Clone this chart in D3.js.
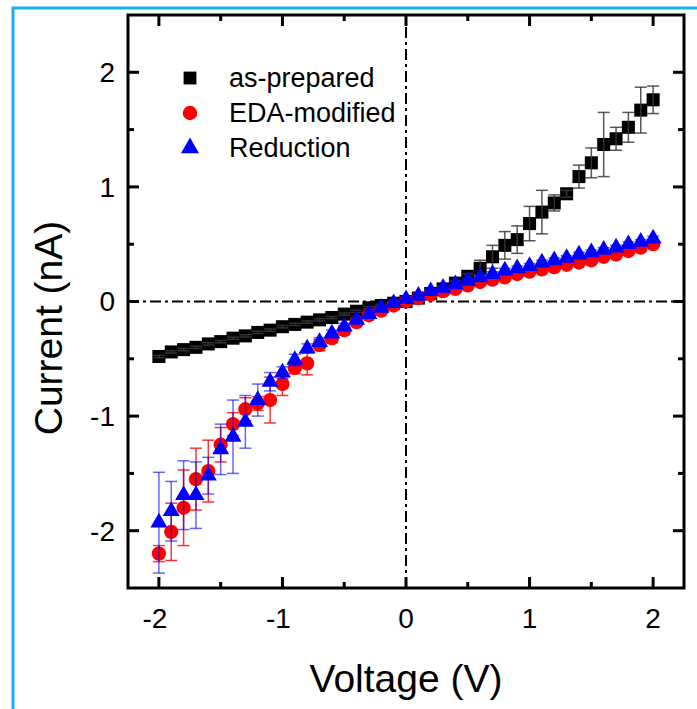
<!DOCTYPE html>
<html>
<head>
<meta charset="utf-8">
<script src="https://cdn.jsdelivr.net/npm/d3@7"></script>
<style>
  body { margin: 0; background: #fff; }
  text { font-family: "Liberation Sans", Arial, sans-serif; }
</style>
</head>
<body>
<script>
// voltage steps (V)
const voltage = [-2.0, -1.9, -1.8, -1.7, -1.6, -1.5, -1.4, -1.3, -1.2, -1.1, -1.0, -0.9, -0.8, -0.7, -0.6, -0.5, -0.4, -0.3, -0.2, -0.1,
  0.0, 0.1, 0.2, 0.3, 0.4, 0.5, 0.6, 0.7, 0.8, 0.9, 1.0, 1.1, 1.2, 1.3, 1.4, 1.5, 1.6, 1.7, 1.8, 1.9, 2.0];

// current (nA) and error
const asPrepared = [-0.48, -0.44, -0.42, -0.40, -0.37, -0.35, -0.32, -0.30, -0.27, -0.25, -0.22, -0.20, -0.18, -0.16, -0.14, -0.11, -0.085, -0.055, -0.035, -0.015,
  0.0, 0.03, 0.07, 0.11, 0.16, 0.22, 0.29, 0.39, 0.49, 0.54, 0.68, 0.78, 0.86, 0.94, 1.09, 1.21, 1.37, 1.42, 1.52, 1.67, 1.76];
const asPreparedErr = [0.01, 0.01, 0.01, 0.01, 0.01, 0.01, 0.01, 0.01, 0.01, 0.01, 0.01, 0.01, 0.01, 0.01, 0.01, 0.01, 0.01, 0.01, 0.01, 0.01,
  0.01, 0.01, 0.01, 0.02, 0.02, 0.02, 0.07, 0.1, 0.12, 0.12, 0.15, 0.19, 0.07, 0.03, 0.1, 0.13, 0.28, 0.1, 0.13, 0.2, 0.12];

const edaModified = [-2.20, -2.01, -1.80, -1.55, -1.48, -1.25, -1.07, -0.94, -0.89, -0.86, -0.72, -0.58, -0.54, -0.38, -0.32, -0.25, -0.18, -0.12, -0.08, -0.035,
  0.0, 0.03, 0.06, 0.09, 0.11, 0.14, 0.17, 0.19, 0.21, 0.24, 0.26, 0.28, 0.30, 0.32, 0.34, 0.36, 0.39, 0.41, 0.44, 0.47, 0.50];
const edaModifiedErr = [0.07, 0.25, 0.33, 0.27, 0.27, 0.15, 0.1, 0.1, 0.06, 0.2, 0.1, 0.05, 0.1, 0.05, 0.04, 0.04, 0.03, 0.02, 0.02, 0.02,
  0.02, 0.02, 0.02, 0.02, 0.02, 0.02, 0.02, 0.02, 0.02, 0.02, 0.02, 0.02, 0.02, 0.02, 0.02, 0.02, 0.02, 0.02, 0.02, 0.02, 0.02];

const reduction = [-1.93, -1.83, -1.69, -1.69, -1.52, -1.29, -1.18, -1.05, -0.86, -0.70, -0.62, -0.51, -0.41, -0.355, -0.28, -0.22, -0.16, -0.11, -0.055, -0.015,
  0.02, 0.05, 0.09, 0.12, 0.15, 0.18, 0.21, 0.24, 0.27, 0.29, 0.31, 0.34, 0.36, 0.38, 0.41, 0.43, 0.45, 0.47, 0.50, 0.52, 0.55];
const reductionErr = [0.44, 0.26, 0.30, 0.29, 0.16, 0.22, 0.32, 0.23, 0.14, 0.08, 0.05, 0.05, 0.04, 0.04, 0.03, 0.03, 0.02, 0.02, 0.02, 0.02,
  0.02, 0.02, 0.02, 0.02, 0.02, 0.02, 0.02, 0.02, 0.02, 0.02, 0.02, 0.02, 0.02, 0.02, 0.02, 0.02, 0.02, 0.02, 0.02, 0.02, 0.02];

const seriesNames = ["as-prepared", "EDA-modified", "Reduction"];
const xTicks = [-2, -1, 0, 1, 2];
const yTicks = [-2, -1, 0, 1, 2];

const width = 697, height = 709;
const margin = { left: 128, right: 13, top: 15, bottom: 121 };

const svg = d3.select("body").append("svg")
  .attr("width", width).attr("height", height)
  .attr("xmlns", "http://www.w3.org/2000/svg");

const x = d3.scaleLinear().domain([-2.25, 2.25]).range([margin.left, width - margin.right]);
const y = d3.scaleLinear().domain([-2.5, 2.5]).range([height - margin.bottom, margin.top]);

// blue frame (left and top edges)
svg.append("path")
  .attr("d", "M13,709 L13,8 L697,8")
  .attr("fill", "none")
  .attr("stroke", "#14b1ea")
  .attr("stroke-width", 3);

// zero reference lines
const ref = svg.append("g")
  .attr("stroke", "#000")
  .attr("stroke-width", 2)
  .attr("stroke-dasharray", "11,4,3,4");
ref.append("line")
  .attr("x1", x.range()[0]).attr("x2", x.range()[1])
  .attr("y1", y(0)).attr("y2", y(0));
ref.append("line")
  .attr("x1", x(0)).attr("x2", x(0))
  .attr("y1", y.range()[0]).attr("y2", y.range()[1]);

// series
const series = [
  { name: seriesNames[0], values: asPrepared, err: asPreparedErr, symbol: d3.symbolSquare, size: 170, fill: "#000", errColor: "#3a3a3a", errOpacity: 0.85 },
  { name: seriesNames[1], values: edaModified, err: edaModifiedErr, symbol: d3.symbolCircle, size: 160, fill: "#ff0000", errColor: "#ff0000", errOpacity: 0.8 },
  { name: seriesNames[2], values: reduction, err: reductionErr, symbol: d3.symbolTriangle, size: 125, fill: "#0000ff", errColor: "#0000ff", errOpacity: 0.6 }
];

const cap = 6;
series.forEach(s => {
  const pts = voltage.map((v, i) => ({ v, c: s.values[i], e: s.err[i] }));
  const g = svg.append("g");
  g.selectAll("path.mark")
    .data(pts)
    .enter()
    .append("path")
    .attr("class", "mark")
    .attr("d", d3.symbol().type(s.symbol).size(s.size))
    .attr("transform", d => `translate(${x(d.v)},${y(d.c)})`)
    .attr("fill", s.fill);

  const eb = g.selectAll("g.err")
    .data(pts)
    .enter()
    .append("g")
    .attr("class", "err")
    .attr("stroke", s.errColor)
    .attr("stroke-opacity", s.errOpacity)
    .attr("stroke-width", 1.5);
  eb.append("line")
    .attr("x1", d => x(d.v)).attr("x2", d => x(d.v))
    .attr("y1", d => y(d.c - d.e)).attr("y2", d => y(d.c + d.e));
  eb.append("line")
    .attr("x1", d => x(d.v) - cap).attr("x2", d => x(d.v) + cap)
    .attr("y1", d => y(d.c + d.e)).attr("y2", d => y(d.c + d.e));
  eb.append("line")
    .attr("x1", d => x(d.v) - cap).attr("x2", d => x(d.v) + cap)
    .attr("y1", d => y(d.c - d.e)).attr("y2", d => y(d.c - d.e));
});

// axes box with inward ticks
const x0 = x.range()[0], x1 = x.range()[1], yB = y.range()[0], yT = y.range()[1];
const major = 11, minor = 6;
const xMinor = [-1.5, -0.5, 0.5, 1.5];
const yMinor = [-1.5, -0.5, 0.5, 1.5];
const axes = svg.append("g").attr("stroke", "#000").attr("stroke-width", 3);

xTicks.forEach(t => {
  axes.append("line").attr("x1", x(t)).attr("x2", x(t)).attr("y1", yB).attr("y2", yB - major);
  axes.append("line").attr("x1", x(t)).attr("x2", x(t)).attr("y1", yT).attr("y2", yT + major);
});
xMinor.forEach(t => {
  axes.append("line").attr("x1", x(t)).attr("x2", x(t)).attr("y1", yB).attr("y2", yB - minor);
  axes.append("line").attr("x1", x(t)).attr("x2", x(t)).attr("y1", yT).attr("y2", yT + minor);
});
yTicks.forEach(t => {
  axes.append("line").attr("x1", x0).attr("x2", x0 + major).attr("y1", y(t)).attr("y2", y(t));
  axes.append("line").attr("x1", x1).attr("x2", x1 - major).attr("y1", y(t)).attr("y2", y(t));
});
yMinor.forEach(t => {
  axes.append("line").attr("x1", x0).attr("x2", x0 + minor).attr("y1", y(t)).attr("y2", y(t));
  axes.append("line").attr("x1", x1).attr("x2", x1 - minor).attr("y1", y(t)).attr("y2", y(t));
});
axes.append("rect")
  .attr("x", x0).attr("y", yT)
  .attr("width", x1 - x0).attr("height", yB - yT)
  .attr("fill", "none");

// tick labels
svg.selectAll("text.xt")
  .data(xTicks)
  .enter()
  .append("text")
  .attr("class", "xt")
  .attr("x", d => x(d) - (d < 0 ? 4 : 0))
  .attr("y", yB + 40)
  .attr("text-anchor", "middle")
  .attr("font-size", "28px")
  .text(d => d);

svg.selectAll("text.yt")
  .data(yTicks)
  .enter()
  .append("text")
  .attr("class", "yt")
  .attr("x", x0 - 13)
  .attr("y", d => y(d))
  .attr("dy", "0.35em")
  .attr("text-anchor", "end")
  .attr("font-size", "28px")
  .text(d => d);

// axis titles
svg.append("text")
  .attr("x", x(0))
  .attr("y", 692)
  .attr("text-anchor", "middle")
  .attr("font-size", "39px")
  .text("Voltage (V)");

svg.append("text")
  .attr("transform", "translate(62,328) rotate(-90)")
  .attr("text-anchor", "middle")
  .attr("font-size", "39px")
  .text("Current (nA)");

// legend
const legend = svg.append("g");
series.forEach((s, i) => {
  const ly = 78 + i * 35;
  legend.append("path")
    .attr("d", d3.symbol().type(s.symbol).size(i === 2 ? 140 : 165))
    .attr("transform", `translate(190,${ly})`)
    .attr("fill", s.fill);
  legend.append("text")
    .attr("x", 229)
    .attr("y", ly)
    .attr("dy", "0.35em")
    .attr("font-size", "27px")
    .text(s.name);
});
</script>
</body>
</html>
